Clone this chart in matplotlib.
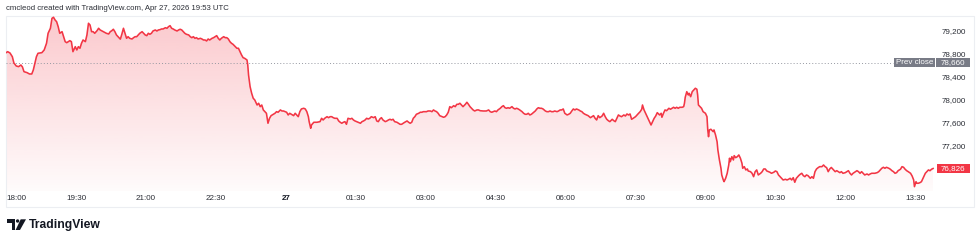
import numpy as np
import matplotlib
matplotlib.use("Agg")
import matplotlib.pyplot as plt
from matplotlib.patches import Rectangle, Ellipse, Polygon
from matplotlib.colors import to_rgb

# minutes after 18:00 and price
mins = [0, 2, 5, 8, 10, 13, 16, 19, 21, 23,
        27, 30, 33, 35, 37, 39, 41, 46, 49, 52,
        54, 57, 59, 61, 63, 65, 67, 69, 72, 74,
        76, 78, 80, 82, 84, 86, 89, 91, 93, 95,
        97, 99, 102, 104, 106, 108, 110, 112, 114, 117,
        119, 121, 125, 129, 132, 134, 136, 138, 140, 142,
        144, 147, 149, 151, 153, 155, 157, 159, 162, 164,
        166, 168, 170, 172, 175, 177, 179, 181, 183, 185,
        187, 189, 192, 194, 196, 198, 200, 202, 205, 207,
        209, 211, 213, 215, 217, 220, 222, 224, 226, 228,
        230, 232, 235, 237, 239, 241, 243, 245, 247, 250,
        252, 254, 256, 258, 260, 262, 265, 267, 269, 271,
        273, 275, 277, 280, 282, 284, 286, 288, 290, 292,
        295, 297, 299, 301, 303, 305, 307, 310, 311, 312,
        314, 316, 318, 320, 323, 325, 327, 329, 331, 333,
        335, 337, 339, 341, 344, 346, 348, 350, 353, 355,
        357, 359, 361, 363, 365, 367, 370, 372, 374, 376,
        378, 380, 383, 385, 387, 389, 390, 392, 393, 396,
        398, 400, 404, 406, 408, 410, 413, 415, 417, 419,
        421, 423, 426, 428, 430, 432, 434, 436, 438, 440,
        443, 445, 447, 449, 451, 453, 456, 458, 460, 462,
        464, 466, 468, 470, 473, 475, 477, 479, 481, 483,
        485, 488, 490, 492, 494, 496, 498, 500, 503, 505,
        507, 509, 511, 513, 516, 518, 520, 522, 524, 526,
        528, 531, 533, 535, 537, 539, 541, 543, 546, 548,
        550, 552, 554, 556, 558, 561, 563, 565, 567, 569,
        571, 573, 576, 578, 580, 582, 584, 586, 588, 591,
        593, 595, 597, 599, 601, 603, 606, 608, 610, 614,
        618, 621, 623, 625, 627, 629, 631, 633, 636, 638,
        640, 642, 644, 646, 648, 651, 653, 655, 657, 659,
        661, 664, 666, 668, 670, 672, 674, 676, 679, 681,
        683, 685, 687, 689, 691, 694, 696, 698, 700, 702,
        704, 706, 709, 711, 713, 715, 717, 719, 722, 724,
        726, 728, 730, 732, 734, 737, 739, 741, 743, 745,
        747, 749, 752, 754, 756, 758, 760, 762, 764, 767,
        769, 771, 773, 775, 777, 780, 782, 784, 786, 788,
        790, 792, 795, 797, 799, 801, 803, 805, 807, 810,
        812, 814, 816, 818, 819, 821, 823, 825, 827, 829,
        830, 832, 834, 836, 838, 841, 843, 844, 846, 848,
        850, 853, 855, 857, 859, 861, 863, 865, 867, 870,
        872, 873, 874, 876, 878, 879, 881, 883, 885, 887,
        889, 890, 891, 893, 895, 897, 900, 902, 903, 904,
        905, 907, 910, 911, 913, 915, 916, 918, 920, 921,
        923, 924, 926, 928, 930, 931, 932, 934, 936, 937,
        939, 941, 943, 945, 947, 948, 950, 952, 954, 955,
        958, 960, 962, 964, 966, 968, 971, 973, 975, 977,
        979, 981, 983, 985, 988, 990, 992, 994, 996, 998,
        1000, 1003, 1005, 1007, 1009, 1011, 1013, 1015, 1017, 1020,
        1022, 1024, 1026, 1028, 1030, 1032, 1035, 1037, 1039, 1041,
        1043, 1045, 1047, 1050, 1052, 1054, 1056, 1058, 1060, 1062,
        1065, 1067, 1069, 1071, 1073, 1075, 1077, 1080, 1082, 1084,
        1086, 1088, 1090, 1093, 1095, 1097, 1099, 1101, 1103, 1105,
        1108, 1110, 1112, 1114, 1116, 1118, 1121, 1123, 1125, 1127,
        1129, 1131, 1133, 1136, 1138, 1140, 1142, 1144, 1146, 1148,
        1151, 1153, 1155, 1157, 1159, 1161, 1164, 1166, 1168, 1169,
        1171, 1172, 1174, 1176, 1178, 1181, 1183, 1185, 1187, 1189,
        1191, 1193]

prices = [78836, 78853, 78830, 78766, 78657, 78605, 78593, 78622, 78588, 78506,
          78489, 78466, 78466, 78536, 78652, 78766, 78825, 78836, 78883, 78999,
          79172, 79259, 79432, 79450, 79403, 79373, 79287, 79172, 79200, 79113,
          79027, 79009, 79027, 79044, 79027, 78853, 78940, 78883, 78940, 78912,
          78999, 79056, 79027, 79143, 79346, 79316, 79200, 79200, 79172, 79217,
          79259, 79230, 79200, 79172, 79160, 79200, 79217, 79242, 79200, 79143,
          79113, 79070, 79160, 79259, 79172, 79085, 79113, 79085, 79073, 79096,
          79113, 79113, 79143, 79172, 79200, 79172, 79143, 79131, 79172, 79155,
          79172, 79212, 79230, 79212, 79230, 79235, 79247, 79247, 79269, 79259,
          79287, 79304, 79259, 79247, 79230, 79212, 79230, 79242, 79230, 79200,
          79172, 79155, 79143, 79113, 79096, 79113, 79085, 79096, 79073, 79085,
          79073, 79056, 79056, 79039, 79073, 79056, 79085, 79096, 79113, 79131,
          79085, 79056, 79085, 79113, 79096, 79096, 79073, 79027, 78999, 78981,
          78940, 78912, 78912, 78853, 78796, 78749, 78738, 78709, 78622, 78449,
          78246, 78131, 78045, 78015, 77928, 77958, 77899, 77928, 77842, 77812,
          77784, 77611, 77697, 77743, 77767, 77784, 77812, 77802, 77842, 77824,
          77824, 77812, 77802, 77755, 77784, 77767, 77743, 77784, 77755, 77725,
          77812, 77859, 77871, 77859, 77812, 77725, 77639, 77524, 77581, 77628,
          77628, 77628, 77639, 77697, 77668, 77697, 77725, 77708, 77725, 77725,
          77708, 77697, 77697, 77651, 77628, 77611, 77628, 77639, 77593, 77697,
          77685, 77697, 77668, 77651, 77639, 77628, 77611, 77639, 77651, 77668,
          77697, 77685, 77697, 77725, 77708, 77725, 77651, 77639, 77685, 77708,
          77668, 77639, 77651, 77668, 77680, 77668, 77680, 77639, 77628, 77611,
          77593, 77593, 77611, 77628, 77651, 77628, 77611, 77628, 77697, 77725,
          77767, 77784, 77802, 77802, 77812, 77812, 77812, 77824, 77824, 77812,
          77842, 77824, 77812, 77784, 77743, 77725, 77715, 77725, 77755, 77802,
          77899, 77881, 77916, 77899, 77940, 77940, 77958, 77928, 77899, 77940,
          77975, 77940, 77899, 77871, 77842, 77824, 77842, 77842, 77829, 77824,
          77824, 77842, 77812, 77802, 77812, 77824, 77812, 77842, 77871, 77899,
          77916, 77881, 77871, 77881, 77871, 77899, 77871, 77859, 77871, 77859,
          77842, 77812, 77784, 77767, 77767, 77784, 77755, 77767, 77802, 77824,
          77859, 77881, 77871, 77871, 77859, 77824, 77812, 77812, 77824, 77812,
          77812, 77824, 77812, 77824, 77842, 77842, 77859, 77784, 77755, 77767,
          77784, 77824, 77859, 77842, 77859, 77842, 77824, 77812, 77784, 77767,
          77755, 77743, 77708, 77725, 77743, 77697, 77668, 77743, 77708, 77737,
          77784, 77725, 77680, 77656, 77639, 77680, 77656, 77639, 77697, 77755,
          77737, 77725, 77755, 77737, 77772, 77755, 77772, 77680, 77697, 77725,
          77755, 77784, 77812, 77854, 77928, 77842, 77784, 77725, 77668, 77611,
          77581, 77639, 77697, 77737, 77795, 77755, 77784, 77715, 77784, 77842,
          77829, 77871, 77854, 77871, 77888, 77871, 77888, 77871, 77888, 77888,
          77899, 77958, 78062, 78159, 78102, 78131, 78072, 78159, 78188, 78218,
          78201, 78102, 77928, 77899, 77871, 77812, 77784, 77725, 77495, 77378,
          77495, 77507, 77465, 77495, 77408, 77291, 77148, 76974, 76830, 76714,
          76627, 76598, 76656, 76743, 76887, 77004, 76944, 77031, 76974, 77049,
          77014, 77031, 77061, 77004, 76917, 76830, 76858, 76801, 76818, 76783,
          76771, 76743, 76684, 76771, 76801, 76714, 76743, 76771, 76818, 76818,
          76783, 76771, 76761, 76743, 76761, 76783, 76771, 76714, 76684, 76656,
          76627, 76639, 76627, 76639, 76656, 76627, 76667, 76587, 76656, 76702,
          76726, 76743, 76702, 76684, 76714, 76702, 76656, 76684, 76656, 76771,
          76818, 76840, 76858, 76858, 76887, 76858, 76840, 76771, 76818, 76844,
          76801, 76771, 76788, 76771, 76754, 76771, 76743, 76754, 76771, 76788,
          76743, 76714, 76743, 76771, 76788, 76771, 76743, 76771, 76743, 76714,
          76731, 76714, 76731, 76743, 76743, 76743, 76754, 76771, 76801, 76830,
          76847, 76830, 76847, 76830, 76813, 76788, 76771, 76743, 76754, 76788,
          76813, 76858, 76847, 76813, 76788, 76771, 76743, 76696, 76627, 76511,
          76597, 76570, 76570, 76580, 76597, 76684, 76743, 76771, 76801, 76788,
          76813, 76826]

prev_close = 78660
last_price = 76826
ytick_vals = [79200, 78800, 78400, 78000, 77600, 77200]
xtick_mins = [0, 90, 180, 270, 360, 450, 540, 630, 720, 810, 900, 990, 1080, 1170]
xtick_labels = ["18:00", "19:30", "21:00", "22:30", "27", "01:30", "03:00",
                "04:30", "06:00", "07:30", "09:00", "10:30", "12:00", "13:30"]
title = "cmcleod created with TradingView.com, Apr 27, 2026 19:53 UTC"

plt.rcParams['font.family'] = ['Liberation Sans', 'DejaVu Sans']
RED = '#f23645'
GREY = '#787b86'
TXT = '#2a2d35'
W, H = 980, 243

fig = plt.figure(figsize=(W / 100, H / 100), dpi=100, facecolor='white')
# pane: x 5.5..973.5 px, y 16..207 px from top
ax = fig.add_axes([5.5 / W, 36 / H, 968 / W, 191 / H])
ymin, ymax = 76158, 79472
ppx = (ymax - ymin) / 191.0          # price per pixel
pane_bottom = ymax - 175 * ppx       # time axis strip below this

# gradient area under the line
grad = np.zeros((256, 1, 4))
grad[..., :3] = to_rgb(RED)
grad[:, 0, 3] = np.linspace(0.02, 0.27, 256)
im = ax.imshow(grad, extent=[mins[0], mins[-1], pane_bottom, ymax],
               origin='lower', aspect='auto', zorder=1, interpolation='bilinear')
fill = ax.fill_between(mins, prices, pane_bottom, color='none', lw=0)
im.set_clip_path(fill.get_paths()[0], transform=ax.transData)

ax.plot(mins, prices, color=RED, lw=1.15, zorder=3, solid_joinstyle='round')
ax.plot([-0.8, 1141], [prev_close, prev_close], color='#9598a1', lw=0.7,
        ls=(0, (1, 2.2)), zorder=2)

ax.set_xlim(-0.8, 1245)
ax.set_ylim(ymin, ymax)
ax.axis('off')
ax.add_patch(Rectangle((0, 0), 1, 1, transform=ax.transAxes, fill=False,
                       ec='#eceef2', lw=0.8, clip_on=False))

# price labels
for v in ytick_vals:
    ax.text(0.9793, v, f"{v:,}", transform=ax.get_yaxis_transform(),
            ha='center', va='center', fontsize=5.8, color=TXT)


def badge(y, text, x0, x1, fc):
    tr = ax.get_yaxis_transform()
    ax.add_patch(Rectangle(((x0 - 5.5) / 968, y - 4.6 * ppx), (x1 - x0) / 968,
                           9.2 * ppx, transform=tr, fc=fc, ec='none',
                           clip_on=False, zorder=5))
    ax.text(((x0 + x1) / 2 - 5.5) / 968, y, text, transform=tr, ha='center',
            va='center', fontsize=5.8, color='white', zorder=6)


badge(prev_close, "Prev close", 894, 935, GREY)
badge(prev_close, f"{prev_close:,}", 936, 970, GREY)
badge(last_price, f"{last_price:,}", 936.5, 970, RED)

# time labels
xt = ax.get_xaxis_transform()
for m, lab in zip(xtick_mins, xtick_labels):
    if m == 0:
        ax.text(m + 1, 0.042, lab, transform=xt, ha='left', va='center',
                fontsize=5.8, color=TXT)
    elif lab == "27":
        ax.text(m, 0.042, lab, transform=xt, ha='center', va='center',
                fontsize=5.8, color='#131722', fontweight='bold')
    else:
        ax.text(m, 0.042, lab, transform=xt, ha='center', va='center',
                fontsize=5.8, color=TXT)

fig.text(6 / W, 1 - 9 / H, title, fontsize=5.6, color=TXT, va='center')


# TradingView logo
def fx(x):
    return x / W


def fy(y):
    return 1 - y / H


ft = fig.transFigure
fig.add_artist(Rectangle((fx(6.7), fy(222.7)), 8.3 / W, 3.4 / H, fc='#131722', ec='none', transform=ft))
fig.add_artist(Rectangle((fx(11.7), fy(230)), 3.3 / W, 10.7 / H, fc='#131722', ec='none', transform=ft))
fig.add_artist(Ellipse((fx(17.6), fy(221)), 3.4 / W, 3.4 / H, fc='#131722', ec='none', transform=ft))
fig.add_artist(Polygon([(fx(20.7), fy(219.3)), (fx(26), fy(219.3)), (fx(20), fy(230)), (fx(15.6), fy(230))],
                       closed=True, fc='#131722', ec='none', transform=ft))
fig.text(fx(29), fy(225), "TradingView", fontsize=8.7, fontweight='bold',
         color='#131722', va='center')

fig.savefig('out.png', dpi=100, facecolor='white')
